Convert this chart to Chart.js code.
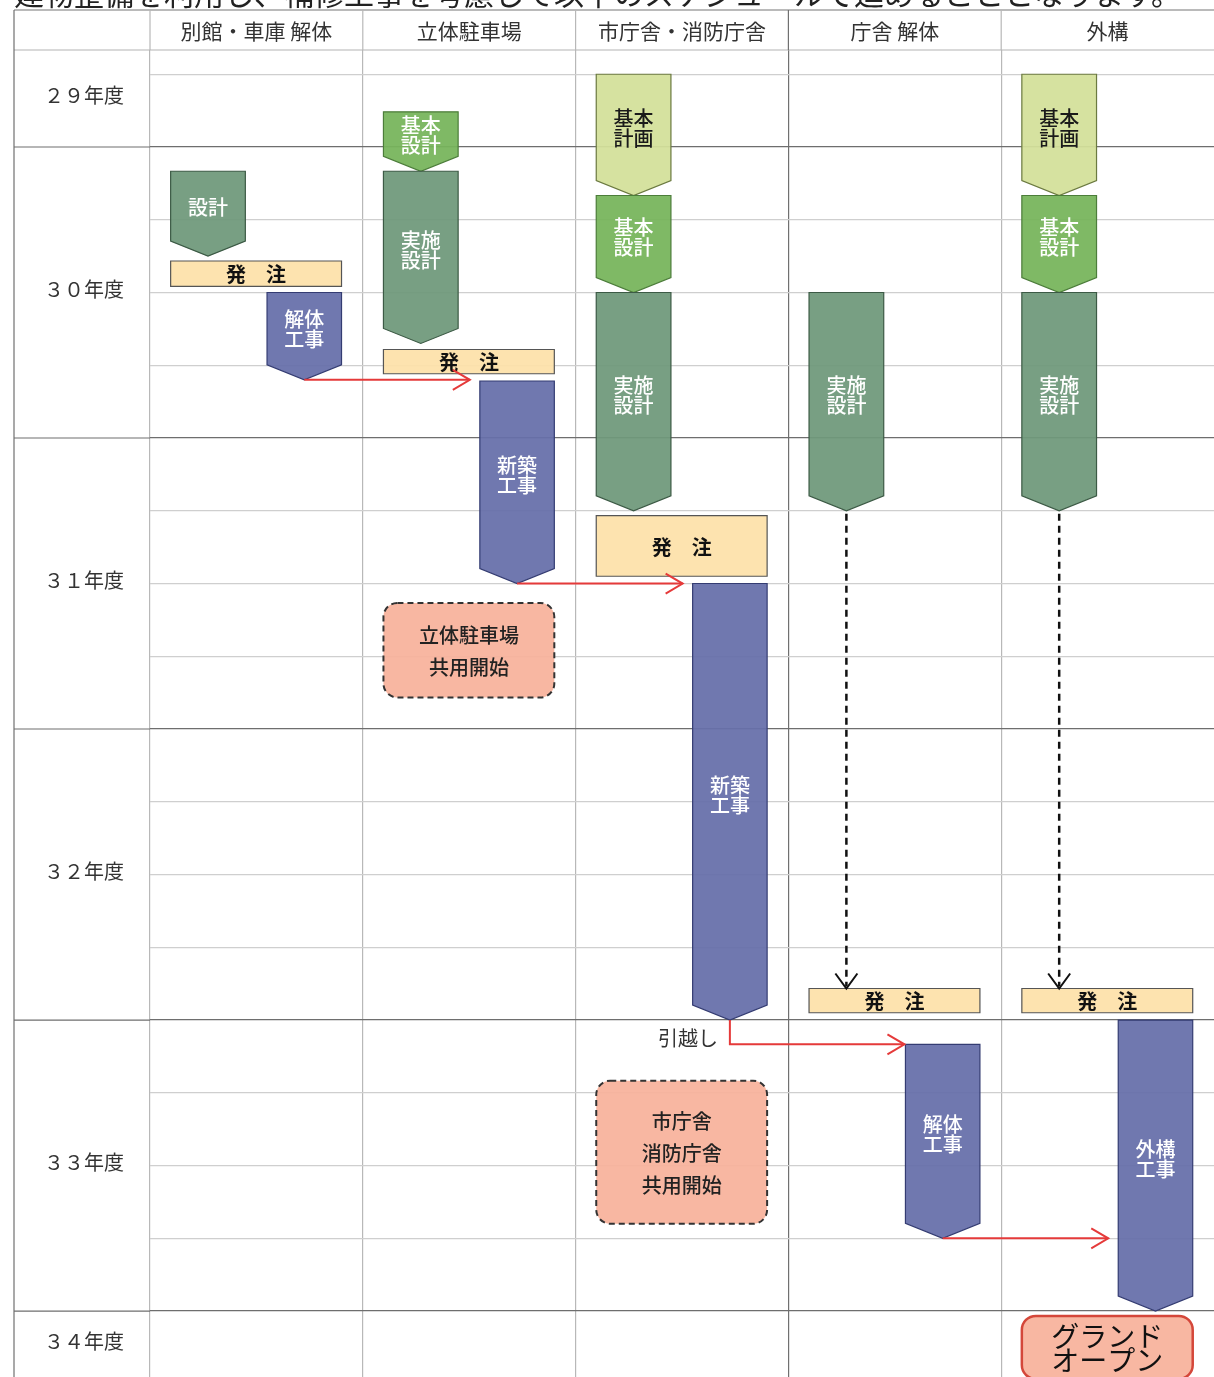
<!DOCTYPE html>
<html lang="ja">
<head>
<meta charset="utf-8">
<title>整備スケジュール</title>
<script src="https://cdn.jsdelivr.net/npm/chart.js@4.4.1/dist/chart.umd.min.js"></script>
<style>
  html, body { margin: 0; padding: 0; background: #fff; }
  #wrap { width: 1214px; height: 1377px; }
</style>
</head>
<body>
<div id="wrap"><canvas id="schedule" width="1214" height="1377"></canvas></div>
<script>
const introText = '建物整備を利用し、補修工事を考慮して以下のスケジュールで進めることとなります。';
const columns = ['別館・車庫 解体', '立体駐車場', '市庁舎・消防庁舎', '庁舎 解体', '外構'];
const fiscalYears = ['２９年度', '３０年度', '３１年度', '３２年度', '３３年度', '３４年度'];
const yearStarts = [-12, 0, 12, 24, 36, 48];   // months, 0 = start of FY30

const taskCol   = [0, 0, 0, 1, 1, 1, 1, 1, 2, 2, 2, 2, 2, 2, 3, 3, 3, 4, 4, 4, 4, 4, 4];
const taskName  = ['設計', '発　注', '解体\n工事',
                   '基本\n設計', '実施\n設計', '発　注', '新築\n工事', '立体駐車場\n共用開始',
                   '基本\n計画', '基本\n設計', '実施\n設計', '発　注', '新築\n工事', '市庁舎\n消防庁舎\n共用開始',
                   '実施\n設計', '発　注', '解体\n工事',
                   '基本\n計画', '基本\n設計', '実施\n設計', '発　注', '外構\n工事', 'グランド\nオープン'];
const taskKind  = ['design', 'order', 'work',
                   'basic', 'design', 'order', 'work', 'open',
                   'plan', 'basic', 'design', 'order', 'work', 'open',
                   'design', 'order', 'work',
                   'plan', 'basic', 'design', 'order', 'work', 'grand'];
const taskStart = [1, 4.7, 6,   -1.45, 1, 8.35, 9.65, 18.8,   -3, 2, 6, 15.2, 18, 38.5,   6, 34.7, 37,   -3, 2, 6, 34.7, 36, 48.2];
const taskEnd   = [4.5, 5.75, 9.6,   1, 8.1, 9.35, 18, 22.7,   2, 6, 15, 17.7, 36, 44.4,   15, 35.7, 45,   2, 6, 15, 35.7, 48, 50.8];

// red arrows: finished task -> following task
const linkFrom = [2, 6, 12, 16];
const linkTo   = [6, 12, 16, 21];
const linkNote = ['', '', '引越し', ''];
// dashed arrows: design finished, waiting for order
const waitFrom = [14, 19];
const waitTo   = [15, 20];

const FONT = '"Noto Sans CJK JP", "Noto Sans", sans-serif';
const LANE = { left: [0.097, 0.448], right: [0.55, 0.90], wide: [0.097, 0.90] };
const STYLE = {
  plan:   { fill: '#d3e09a', stroke: '#6b7a40', text: '#1a1a1a' },
  basic:  { fill: '#77b55b', stroke: '#4c7d3a', text: '#ffffff' },
  design: { fill: '#70997b', stroke: '#3c5a45', text: '#ffffff' },
  work:   { fill: '#6770aa', stroke: '#343c72', text: '#ffffff' },
  order:  { fill: '#fde1aa', stroke: '#555555', text: '#111111' },
  open:   { fill: '#f8b39c', stroke: '#333333', text: '#222222' },
  grand:  { fill: '#f8b39c', stroke: '#d4473a', text: '#111111' }
};
const RED = '#e53a3a';

function laneOf(kind) {
  if (kind === 'work') return LANE.right;
  if (kind === 'order' || kind === 'open' || kind === 'grand') return LANE.wide;
  return LANE.left;
}

const quarterLines = [];
yearStarts.forEach(s => [0, 3, 6, 9].forEach(q => quarterLines.push(s + q)));

function line(ctx, x0, y0, x1, y1, color, w) {
  ctx.beginPath();
  ctx.strokeStyle = color;
  ctx.lineWidth = w || 1.2;
  ctx.moveTo(x0, y0);
  ctx.lineTo(x1, y1);
  ctx.stroke();
}

function textLines(ctx, text, cx, cy, lh) {
  const lines = text.split('\n');
  const top = cy - (lines.length - 1) * lh / 2;
  lines.forEach((l, i) => ctx.fillText(l, cx, top + i * lh));
}

function roundRect(ctx, x0, y0, x1, y1, r) {
  ctx.beginPath();
  ctx.moveTo(x0 + r, y0);
  ctx.arcTo(x1, y0, x1, y1, r);
  ctx.arcTo(x1, y1, x0, y1, r);
  ctx.arcTo(x0, y1, x0, y0, r);
  ctx.arcTo(x0, y0, x1, y0, r);
  ctx.closePath();
}

function drawFrame(chart) {
  const { ctx, chartArea: a, scales: { x, y } } = chart;
  const left = 14, headTop = 10;
  ctx.save();
  ctx.fillStyle = '#222';
  ctx.font = '30px ' + FONT;
  ctx.textAlign = 'left';
  ctx.textBaseline = 'alphabetic';
  ctx.fillText(introText, 14, 5);

  line(ctx, left, headTop, a.right, headTop, '#777');
  line(ctx, left, a.top, a.right, a.top, '#b4b4b4');
  line(ctx, left, headTop, left, a.bottom, '#707070');
  for (let i = 0; i < columns.length; i++) {
    const px = x.getPixelForValue(i);
    line(ctx, px, headTop, px, a.top, i === 3 ? '#707070' : '#b8b8b8');
  }
  yearStarts.forEach(s => {
    if (s > y.min && s < y.max) {
      const py = y.getPixelForValue(s);
      line(ctx, left, py, a.left, py, '#6e6e6e');
    }
  });

  ctx.fillStyle = '#333';
  ctx.textAlign = 'center';
  ctx.textBaseline = 'middle';
  ctx.font = '21px ' + FONT;
  columns.forEach((c, i) => ctx.fillText(c, x.getPixelForValue(i + 0.5), (headTop + a.top) / 2 + 1));
  ctx.font = '20px ' + FONT;
  fiscalYears.forEach((label, i) => {
    const s = Math.max(yearStarts[i], y.min), e = Math.min(yearStarts[i] + 12, y.max);
    ctx.fillText(label, (left + a.left) / 2 + 2, y.getPixelForValue((s + e) / 2) - 3);
  });
  ctx.restore();
}

function drawTasks(chart) {
  const { ctx, scales: { x, y } } = chart;
  const depth = 15;
  ctx.save();
  ctx.textAlign = 'center';
  ctx.textBaseline = 'middle';
  taskKind.forEach((kind, i) => {
    const st = STYLE[kind];
    const lane = laneOf(kind);
    const x0 = x.getPixelForValue(taskCol[i] + lane[0]);
    const x1 = x.getPixelForValue(taskCol[i] + lane[1]);
    const y0 = y.getPixelForValue(taskStart[i]);
    const y1 = y.getPixelForValue(taskEnd[i]);
    const cx = (x0 + x1) / 2;
    let cy = (y0 + y1) / 2;
    ctx.setLineDash([]);
    ctx.lineWidth = 1.2;
    if (kind === 'order') {
      ctx.beginPath();
      ctx.rect(x0, y0, x1 - x0, y1 - y0);
      ctx.font = 'bold 20px ' + FONT;
    } else if (kind === 'open' || kind === 'grand') {
      roundRect(ctx, x0, y0, x1, y1, 14);
      if (kind === 'open') {
        ctx.setLineDash([6, 4]);
        ctx.lineWidth = 2;
        ctx.font = '500 20px ' + FONT;
      } else {
        ctx.lineWidth = 2.5;
        ctx.font = '28px ' + FONT;
      }
    } else {
      const yb = y1 - depth;
      ctx.beginPath();
      ctx.moveTo(x0, y0);
      ctx.lineTo(x1, y0);
      ctx.lineTo(x1, yb);
      ctx.lineTo(cx, y1);
      ctx.lineTo(x0, yb);
      ctx.closePath();
      cy = (y0 + yb) / 2;
      ctx.font = '500 20px ' + FONT;
    }
    ctx.globalAlpha = 0.94;
    ctx.fillStyle = st.fill;
    ctx.fill();
    ctx.globalAlpha = 1;
    ctx.strokeStyle = st.stroke;
    ctx.stroke();
    ctx.setLineDash([]);
    ctx.fillStyle = st.text;
    const lh = kind === 'open' ? 32 : (kind === 'grand' ? 24 : 20);
    textLines(ctx, taskName[i], cx, cy + 1, lh);
  });
  ctx.restore();
}

function drawLinks(chart) {
  const { ctx, scales: { x, y } } = chart;
  ctx.save();
  ctx.lineJoin = 'miter';
  linkFrom.forEach((f, k) => {
    const t = linkTo[k];
    const fl = laneOf(taskKind[f]);
    const fx = x.getPixelForValue(taskCol[f] + (fl[0] + fl[1]) / 2);
    const fy = y.getPixelForValue(taskEnd[f]);
    const tx = x.getPixelForValue(taskCol[t] + laneOf(taskKind[t])[0]);
    const elbow = taskStart[t] > taskEnd[f] + 0.5;
    const hy = elbow ? y.getPixelForValue(taskStart[t]) : fy;
    const tip = tx - (elbow ? 1 : 10);
    ctx.beginPath();
    ctx.strokeStyle = RED;
    ctx.lineWidth = 2;
    ctx.moveTo(fx, fy);
    if (elbow) ctx.lineTo(fx, hy);
    ctx.lineTo(tip, hy);
    ctx.stroke();
    ctx.beginPath();
    ctx.moveTo(tip - 17, hy - 10);
    ctx.lineTo(tip, hy);
    ctx.lineTo(tip - 17, hy + 10);
    ctx.stroke();
    if (linkNote[k]) {
      ctx.fillStyle = '#333';
      ctx.font = '20px ' + FONT;
      ctx.textAlign = 'right';
      ctx.textBaseline = 'middle';
      ctx.fillText(linkNote[k], fx - 12, fy + 18);
    }
  });
  waitFrom.forEach((f, k) => {
    const t = waitTo[k];
    const fl = laneOf(taskKind[f]);
    const cx = x.getPixelForValue(taskCol[f] + (fl[0] + fl[1]) / 2);
    const y0 = y.getPixelForValue(taskEnd[f]);
    const y1 = y.getPixelForValue(taskStart[t]);
    ctx.setLineDash([7, 5]);
    line(ctx, cx, y0 + 3, cx, y1 - 2, '#111', 2.5);
    ctx.setLineDash([]);
    ctx.beginPath();
    ctx.strokeStyle = '#111';
    ctx.lineWidth = 2;
    ctx.moveTo(cx - 11, y1 - 15);
    ctx.lineTo(cx, y1);
    ctx.lineTo(cx + 11, y1 - 15);
    ctx.stroke();
  });
  ctx.restore();
}

const schedulePlugin = {
  id: 'schedule',
  beforeDatasetsDraw(chart) { drawFrame(chart); },
  afterDatasetsDraw(chart) { drawTasks(chart); drawLinks(chart); }
};

new Chart(document.getElementById('schedule'), {
  type: 'scatter',
  data: { datasets: [{ data: [] }] },
  options: {
    responsive: false,
    animation: false,
    devicePixelRatio: 1,
    layout: { padding: { top: 10, left: 14, right: 0, bottom: 0 } },
    plugins: { legend: { display: false }, tooltip: { enabled: false } },
    scales: {
      x: {
        type: 'linear',
        position: 'top',
        min: 0,
        max: columns.length,
        afterBuildTicks: s => { s.ticks = columns.map((c, i) => ({ value: i })); },
        afterFit: s => { s.height = 40; },
        ticks: { display: false },
        grid: { color: c => c.tick.value === 3 ? '#707070' : '#b8b8b8', lineWidth: 1.2, drawTicks: false },
        border: { display: false }
      },
      y: {
        type: 'linear',
        reverse: true,
        min: -4,
        max: 50.72,
        afterBuildTicks: s => { s.ticks = quarterLines.filter(v => v > -4 && v < 50.72).map(v => ({ value: v })); },
        afterFit: s => { s.width = 136; },
        ticks: { display: false },
        grid: { color: c => c.tick.value % 12 === 0 ? '#6e6e6e' : '#cfcfcf', lineWidth: 1.2, drawTicks: false },
        border: { display: false }
      }
    }
  },
  plugins: [schedulePlugin]
});
</script>
</body>
</html>
